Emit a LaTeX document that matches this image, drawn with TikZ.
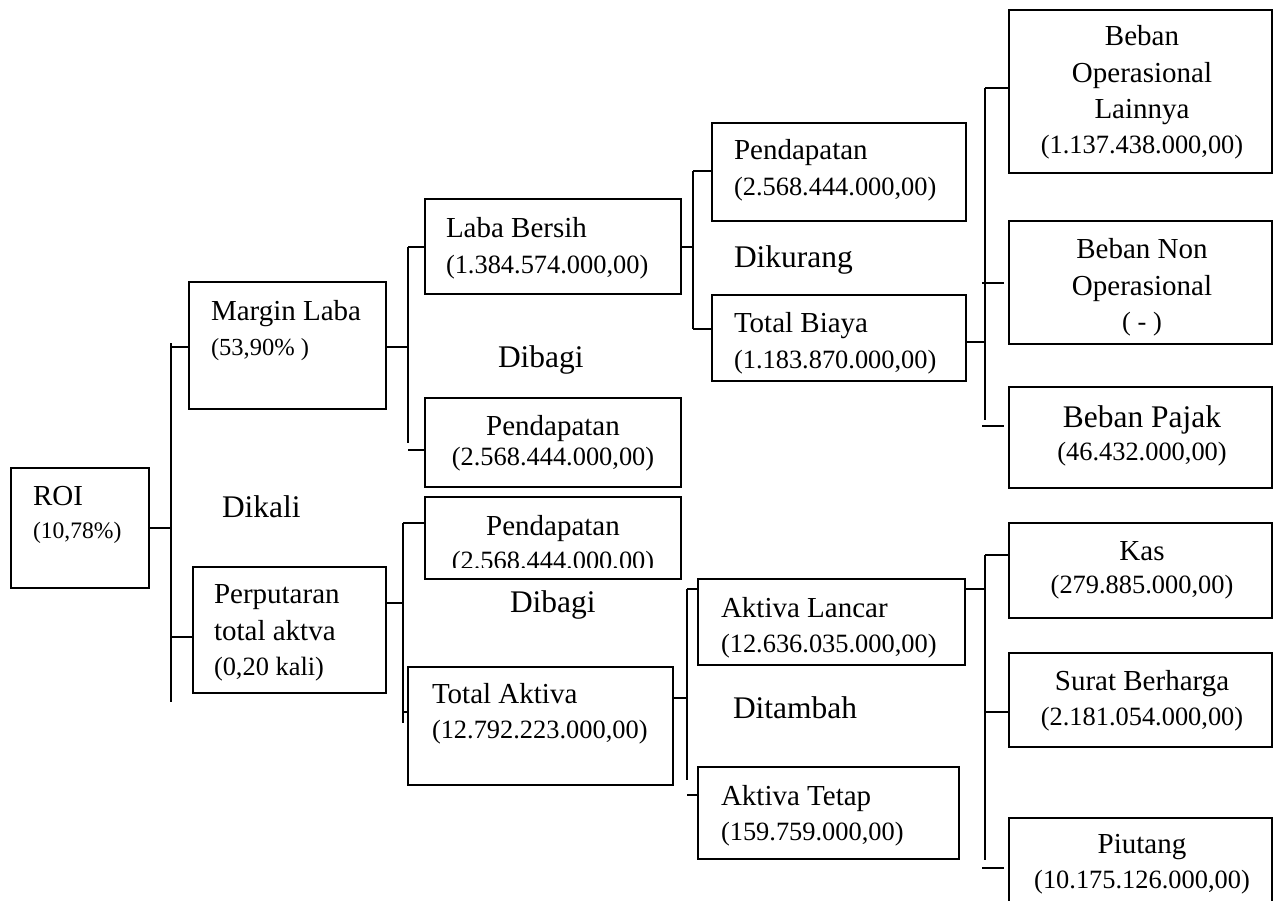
\documentclass[tikz,border=0pt]{standalone}
\usepackage{fontspec}
\setmainfont{Liberation Serif}
\usetikzlibrary{fit}
\begin{document}
\begin{tikzpicture}[x=0.75pt,y=-0.75pt,line width=1.5pt,
  box/.style={draw,inner sep=0pt,line width=1.5pt},
  lbl/.style={inner sep=0pt,anchor=base west,font=\fontsize{21.75}{26}\selectfont},
  num/.style={inner sep=0pt,anchor=base west,font=\fontsize{19.8}{24}\selectfont},
  op/.style={inner sep=0pt,anchor=base west,font=\fontsize{23.6}{28}\selectfont},
  clbl/.style={lbl,anchor=base},
  cnum/.style={num,anchor=base},
  cop/.style={op,anchor=base}]
\useasboundingbox (0,0) rectangle (1274,900);
\clip (0,0) rectangle (1274,900);
% boxes
\node[box,fit={(11,468) (149,588)}] (roi) {};
\node[box,fit={(189,282) (386,409)}] (ml) {};
\node[box,fit={(193,567) (386,693)}] (pt) {};
\node[box,fit={(425,199) (681,294)}] (lb) {};
\node[box,fit={(425,398) (681,487)}] (pd1) {};
\node[box,fit={(425,497) (681,579)}] (pd2) {};
\node[box,fit={(408,667) (673,785)}] (ta) {};
\node[box,fit={(712,123) (966,221)}] (pd3) {};
\node[box,fit={(712,295) (966,381)}] (tb) {};
\node[box,fit={(698,579) (965,665)}] (al) {};
\node[box,fit={(698,767) (959,859)}] (at) {};
\node[box,fit={(1009,10) (1272,173)}] (bol) {};
\node[box,fit={(1009,221) (1272,344)}] (bno) {};
\node[box,fit={(1009,387) (1272,488)}] (bp) {};
\node[box,fit={(1009,523) (1272,618)}] (kas) {};
\node[box,fit={(1009,653) (1272,747)}] (sb) {};
\node[box,fit={(1009,818) (1272,915)}] (piu) {};
% bracket A
\coordinate (at1) at (171,343); \coordinate (ab1) at (171,702);
\draw (at1) -- (ab1);
\coordinate (a0) at (171,528); \draw (roi.east |- a0) -- (a0);
\coordinate (a1) at (171,347); \draw (a1) -- (a1 -| ml.west);
\coordinate (a2) at (171,637); \draw (a2) -- (a2 -| pt.west);
% bracket B
\coordinate (bt) at (408,247); \coordinate (bb) at (408,443);
\draw (bt) -- (bb);
\coordinate (b0) at (408,347); \draw (ml.east |- b0) -- (b0);
\coordinate (b1) at (408,247); \draw (b1) -- (b1 -| lb.west);
\coordinate (b2) at (408,450); \draw (b2) -- (b2 -| pd1.west);
% bracket C
\coordinate (ct) at (403,523); \coordinate (cb) at (403,723);
\draw (ct) -- (cb);
\coordinate (c0) at (403,603); \draw (pt.east |- c0) -- (c0);
\coordinate (c1) at (403,523); \draw (c1) -- (c1 -| pd2.west);
\coordinate (c2) at (403,712); \draw (c2) -- (c2 -| ta.west);
% bracket D
\coordinate (dt) at (693,171); \coordinate (db) at (693,329);
\draw (dt) -- (db);
\coordinate (d0) at (693,247); \draw (lb.east |- d0) -- (d0);
\coordinate (d1) at (693,171); \draw (d1) -- (d1 -| pd3.west);
\coordinate (d2) at (693,329); \draw (d2) -- (d2 -| tb.west);
% bracket E
\coordinate (et) at (985,88); \coordinate (eb) at (985,420);
\draw (et) -- (eb);
\coordinate (e0) at (985,342); \draw (tb.east |- e0) -- (e0);
\coordinate (e1) at (985,88); \draw (e1) -- (e1 -| bol.west);
\coordinate (e2) at (982,283); \draw (e2) -- ([xshift=-3pt]bno.west |- e2);
\coordinate (e3) at (982,426); \draw (e3) -- ([xshift=-3pt]bp.west |- e3);
% bracket F
\coordinate (ft) at (687,589); \coordinate (fb) at (687,780);
\draw (ft) -- (fb);
\coordinate (f0) at (687,698); \draw (ta.east |- f0) -- (f0);
\coordinate (f1) at (687,589); \draw (f1) -- (f1 -| al.west);
\coordinate (f2) at (687,795); \draw (f2) -- (f2 -| at.west);
% bracket G
\coordinate (gt) at (985,555); \coordinate (gb) at (985,860);
\draw (gt) -- (gb);
\coordinate (g0) at (985,589); \draw (al.east |- g0) -- (g0);
\coordinate (g1) at (985,555); \draw (g1) -- (g1 -| kas.west);
\coordinate (g2) at (985,712); \draw (g2) -- (g2 -| sb.west);
\coordinate (g3) at (982,868); \draw (g3) -- ([xshift=-3pt]piu.west |- g3);
% texts
\node[lbl] (troi) at (32,505) {ROI};
\node[inner sep=0pt,anchor=base west,font=\fontsize{17.7}{21}\selectfont] (vroi) at (32,538) {(10,78\%)};
\node[lbl] (tml) at (210,320) {Margin Laba};
\node[inner sep=0pt,anchor=base west,font=\fontsize{18.4}{22}\selectfont] (vml) at (210,355) {(53,90\% )};
\node[op] (odikali) at (221,517) {Dikali};
\node[lbl] (tpt1) at (213,603) {Perputaran};
\node[lbl] (tpt2) at (213,640) {total aktva};
\node[num] (vpt) at (213,675) {(0,20 kali)};
\node[lbl] (tlb) at (445,237) {Laba Bersih};
\node[num] (vlb) at (445,273) {(1.384.574.000,00)};
\node[op] (odibagi1) at (497,367) {Dibagi};
\node[clbl] (tpd1) at (553,435) {Pendapatan};
\node[cnum] (vpd1) at (553,465) {(2.568.444.000,00)};
\node[clbl] (tpd2) at (553,535) {Pendapatan};
\begin{scope}
\clip (425,497) rectangle (681,567);
\node[cnum] (vpd2) at (553,569) {(2.568.444.000,00)};
\end{scope}
\node[op] (odibagi2) at (509,612) {Dibagi};
\node[lbl] (tta) at (431,703) {Total Aktiva};
\node[num] (vta) at (431,738) {(12.792.223.000,00)};
\node[lbl] (tpd3) at (733,159) {Pendapatan};
\node[num] (vpd3) at (733,195) {(2.568.444.000,00)};
\node[op] (odikurang) at (733,267) {Dikurang};
\node[lbl] (ttb) at (733,332) {Total Biaya};
\node[num] (vtb) at (733,368) {(1.183.870.000,00)};
\node[lbl] (tal) at (720,617) {Aktiva Lancar};
\node[num] (val) at (720,652) {(12.636.035.000,00)};
\node[op] (oditambah) at (732,718) {Ditambah};
\node[lbl] (tat) at (720,805) {Aktiva Tetap};
\node[num] (vat) at (720,840) {(159.759.000,00)};
\node[clbl] (tbol1) at (1142,45) {Beban};
\node[clbl] (tbol2) at (1142,82) {Operasional};
\node[clbl] (tbol3) at (1142,118) {Lainnya};
\node[cnum] (vbol) at (1142,153) {(1.137.438.000,00)};
\node[clbl] (tbno1) at (1142,258) {Beban Non};
\node[clbl] (tbno2) at (1142,295) {Operasional};
\node[cnum] (vbno) at (1142,330) {( - )};
\node[cop] (tbp) at (1142,427) {Beban Pajak};
\node[cnum] (vbp) at (1142,460) {(46.432.000,00)};
\node[clbl] (tkas) at (1142,560) {Kas};
\node[cnum] (vkas) at (1142,593) {(279.885.000,00)};
\node[clbl] (tsb) at (1142,690) {Surat Berharga};
\node[cnum] (vsb) at (1142,725) {(2.181.054.000,00)};
\node[clbl] (tpiu) at (1142,853) {Piutang};
\node[cnum] (vpiu) at (1142,888) {(10.175.126.000,00)};
\end{tikzpicture}
\end{document}
